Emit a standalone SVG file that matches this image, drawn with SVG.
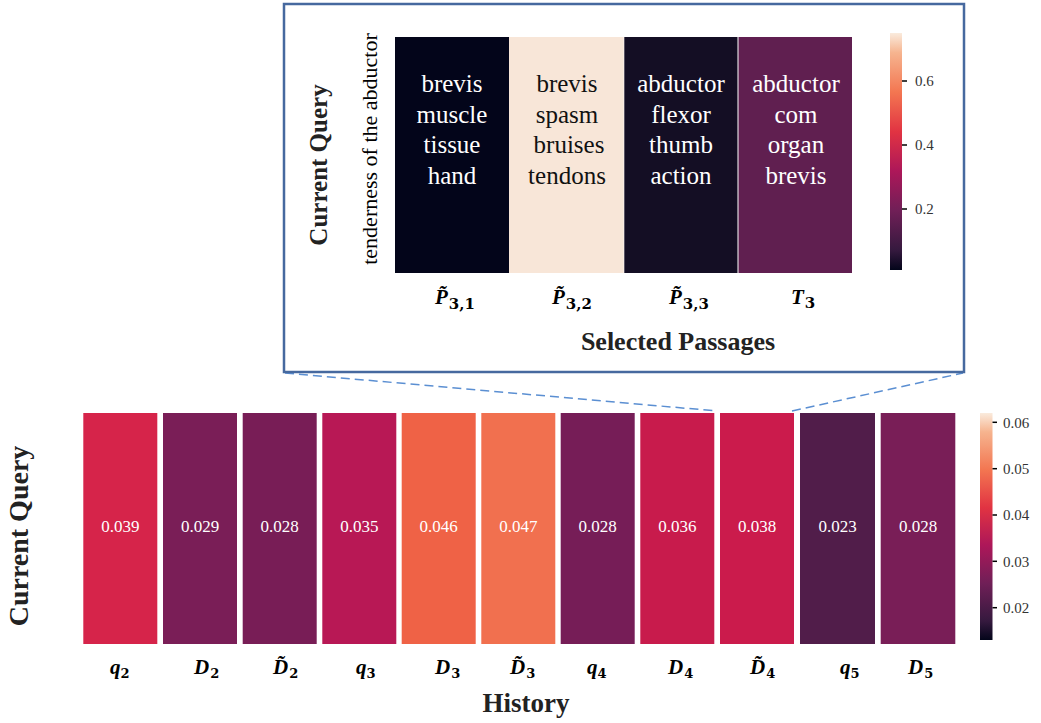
<svg xmlns="http://www.w3.org/2000/svg" width="1041" height="723" viewBox="0 0 1041 723">
<defs>
<linearGradient id="rocketTop" x1="0" y1="1" x2="0" y2="0">
<stop offset="0" stop-color="#03051a"/>
<stop offset="0.083" stop-color="#35193e"/>
<stop offset="0.25" stop-color="#701f57"/>
<stop offset="0.417" stop-color="#ad1759"/>
<stop offset="0.583" stop-color="#e13342"/>
<stop offset="0.75" stop-color="#f37651"/>
<stop offset="0.917" stop-color="#f6b48f"/>
<stop offset="1" stop-color="#faebdd"/>
</linearGradient>
<style>
.cell-txt{font-family:"Liberation Serif","DejaVu Serif",serif;font-size:25px;text-anchor:middle}
.val{font-family:"Liberation Serif","DejaVu Serif",serif;font-size:17px;fill:#ffffff;text-anchor:middle}
.tick{font-family:"Liberation Serif","DejaVu Serif",serif;font-size:15px;fill:#333333}
.axis{font-family:"Liberation Serif","DejaVu Serif",serif;font-weight:bold;fill:#222222;text-anchor:middle}
.sym{font-family:"Liberation Serif","DejaVu Serif",serif;font-weight:bold;font-style:italic;font-size:21px;fill:#000000}
.sub{font-family:"DejaVu Serif","Liberation Serif",serif;font-weight:bold;font-style:normal;font-size:13px}
.sub2{font-family:"DejaVu Serif","Liberation Serif",serif;font-weight:bold;font-style:normal;font-size:15px}
.tl{font-family:"Liberation Serif","DejaVu Serif",serif;font-size:22px;fill:#000000;text-anchor:middle}
.tickline{stroke:#000000;stroke-width:1.5}
.dash{stroke:#5b8fd2;stroke-width:1.5;stroke-dasharray:9 5;fill:none}
</style>
</defs>
<rect x="0" y="0" width="1041" height="723" fill="#ffffff"/>

<g id="connectors">
<line class="dash" x1="285" y1="373" x2="717" y2="411"/>
<line class="dash" x1="792" y1="411" x2="963" y2="373"/>
</g>

<g id="inset">
<rect x="284" y="4" width="680" height="368" fill="#ffffff" stroke="#46699f" stroke-width="2.5"/>
<g id="top-heatmap">
<rect x="395" y="37" width="114" height="236" fill="#03051a"/>
<rect x="509" y="37" width="115" height="236" fill="#f8e6d8"/>
<rect x="624" y="37" width="114" height="236" fill="#140e24"/>
<rect x="738" y="37" width="114" height="236" fill="#601f50"/>
<line x1="738" y1="37" x2="738" y2="273" stroke="#ffffff" stroke-width="1"/>
<line x1="624" y1="37" x2="624" y2="273" stroke="#ffffff" stroke-width="0.6"/>
</g>
<g id="p31">
<text class="cell-txt" fill="#ffffff"><tspan x="452" y="92">brevis</tspan><tspan x="452" y="122.7">muscle</tspan><tspan x="452" y="153.4">tissue</tspan><tspan x="452" y="184">hand</tspan></text>
<text class="sym" x="435" y="304">P̃<tspan class="sub2" dx="1" dy="5">3,1</tspan></text>
</g>
<g id="p32">
<text class="cell-txt" fill="#111111"><tspan x="567" y="92">brevis</tspan><tspan x="567" y="122.7">spasm</tspan><tspan x="569" y="153.4">bruises</tspan><tspan x="567" y="184">tendons</tspan></text>
<text class="sym" x="552" y="304">P̃<tspan class="sub2" dx="1" dy="5">3,2</tspan></text>
</g>
<g id="p33">
<text class="cell-txt" fill="#ffffff"><tspan x="681" y="92">abductor</tspan><tspan x="681" y="122.7">flexor</tspan><tspan x="681" y="153.4">thumb</tspan><tspan x="681" y="184">action</tspan></text>
<text class="sym" x="669" y="304">P̃<tspan class="sub2" dx="1" dy="5">3,3</tspan></text>
</g>
<g id="t3">
<text class="cell-txt" fill="#ffffff"><tspan x="796" y="92">abductor</tspan><tspan x="796" y="122.7">com</tspan><tspan x="796" y="153.4">organ</tspan><tspan x="796" y="184">brevis</tspan></text>
<text class="sym" x="791" y="304">T<tspan class="sub2" dx="1" dy="4">3</tspan></text>
</g>
<g id="top-colorbar">
<rect x="890" y="33" width="12" height="237" fill="url(#rocketTop)"/>
<line class="tickline" x1="902" y1="81" x2="907" y2="81"/>
<line class="tickline" x1="902" y1="145" x2="907" y2="145"/>
<line class="tickline" x1="902" y1="209" x2="907" y2="209"/>
<text class="tick" x="915" y="86">0.6</text>
<text class="tick" x="915" y="150">0.4</text>
<text class="tick" x="915" y="214">0.2</text>
</g>
<g id="top-axes">
<text class="axis" font-size="25" transform="translate(327,165) rotate(-90)">Current Query</text>
<text class="tl" transform="translate(377,149) rotate(-90)">tenderness of the abductor</text>
<text class="axis" font-size="26" x="678" y="350">Selected Passages</text>
</g>
</g>

<g id="bottom-heatmap">
<g id="q2"><rect x="83.3" y="413" width="74" height="231" fill="#d6244a"/><text class="val" x="120.3" y="532">0.039</text>
<text class="sym" x="110" y="674">q<tspan class="sub" dy="4">2</tspan></text></g>
<g id="D2"><rect x="163" y="413" width="74" height="231" fill="#7a1e57"/><text class="val" x="200" y="532">0.029</text>
<text class="sym" x="194" y="674">D<tspan class="sub" dx="1" dy="4">2</tspan></text></g>
<g id="Dt2"><rect x="242.7" y="413" width="74" height="231" fill="#781d56"/><text class="val" x="279.7" y="532">0.028</text>
<text class="sym" x="273" y="674">D̃<tspan class="sub" dx="1" dy="4">2</tspan></text></g>
<g id="q3"><rect x="322.3" y="413" width="74" height="231" fill="#b81855"/><text class="val" x="359.3" y="532">0.035</text>
<text class="sym" x="356" y="674">q<tspan class="sub" dy="4">3</tspan></text></g>
<g id="D3"><rect x="401.7" y="413" width="74" height="231" fill="#ef6246"/><text class="val" x="438.7" y="532">0.046</text>
<text class="sym" x="435" y="674">D<tspan class="sub" dx="1" dy="4">3</tspan></text></g>
<g id="Dt3"><rect x="481.3" y="413" width="74" height="231" fill="#f1704f"/><text class="val" x="518.3" y="532">0.047</text>
<text class="sym" x="510" y="674">D̃<tspan class="sub" dx="1" dy="4">3</tspan></text></g>
<g id="q4"><rect x="560.7" y="413" width="74" height="231" fill="#761d57"/><text class="val" x="597.7" y="532">0.028</text>
<text class="sym" x="587" y="674">q<tspan class="sub" dy="4">4</tspan></text></g>
<g id="D4"><rect x="640.3" y="413" width="74" height="231" fill="#c81b4c"/><text class="val" x="677.3" y="532">0.036</text>
<text class="sym" x="668" y="674">D<tspan class="sub" dx="1" dy="4">4</tspan></text></g>
<g id="Dt4"><rect x="720" y="413" width="74" height="231" fill="#cb1b4c"/><text class="val" x="757" y="532">0.038</text>
<text class="sym" x="750" y="674">D̃<tspan class="sub" dx="1" dy="4">4</tspan></text></g>
<g id="q5"><rect x="800" y="413" width="75" height="231" fill="#511d4a"/><text class="val" x="837.5" y="532">0.023</text>
<text class="sym" x="840" y="674">q<tspan class="sub" dy="4">5</tspan></text></g>
<g id="D5"><rect x="880.7" y="413" width="74.6" height="231" fill="#791e57"/><text class="val" x="918" y="532">0.028</text>
<text class="sym" x="908" y="674">D<tspan class="sub" dx="1" dy="4">5</tspan></text></g>
</g>

<g id="bottom-colorbar">
<rect x="980" y="413" width="12.5" height="227" fill="url(#rocketTop)"/>
<line class="tickline" x1="992.5" y1="422.3" x2="997" y2="422.3"/>
<line class="tickline" x1="992.5" y1="468.7" x2="997" y2="468.7"/>
<line class="tickline" x1="992.5" y1="515" x2="997" y2="515"/>
<line class="tickline" x1="992.5" y1="561.3" x2="997" y2="561.3"/>
<line class="tickline" x1="992.5" y1="607.7" x2="997" y2="607.7"/>
<text class="tick" x="1003" y="427.5">0.06</text>
<text class="tick" x="1003" y="474">0.05</text>
<text class="tick" x="1003" y="520">0.04</text>
<text class="tick" x="1003" y="566.5">0.03</text>
<text class="tick" x="1003" y="613">0.02</text>
</g>

<g id="bottom-axes">
<text class="axis" font-size="28" transform="translate(28,536) rotate(-90)">Current Query</text>
<text class="axis" font-size="27" x="526" y="712">History</text>
</g>
</svg>
